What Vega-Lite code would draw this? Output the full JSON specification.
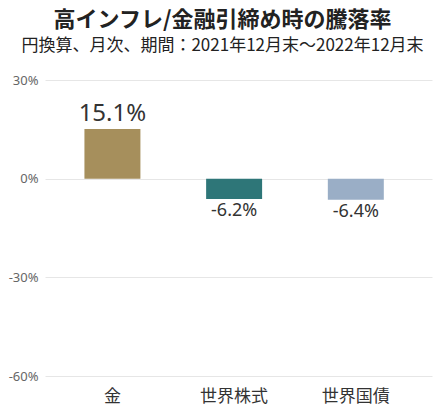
{
  "$schema": "https://vega.github.io/schema/vega-lite/v6.json",
  "width": 387,
  "height": 296,
  "autosize": {"type": "none"},
  "padding": {"left": 45, "top": 80, "right": 8, "bottom": 37},
  "background": "white",
  "title": {
    "text": "高インフレ/金融引締め時の騰落率",
    "subtitle": "円換算、月次、期間：2021年12月末～2022年12月末",
    "anchor": "middle",
    "dx": -16,
    "offset": 19,
    "font": "Noto Sans CJK JP",
    "fontSize": 22,
    "fontWeight": "bold",
    "color": "#222222",
    "subtitleFont": "Noto Sans CJK JP",
    "subtitleFontSize": 17,
    "subtitleFontWeight": "normal",
    "subtitleColor": "#222222",
    "subtitlePadding": 6
  },
  "config": {"view": {"stroke": null}},
  "data": {
    "values": [
      {"asset": "金", "v": 0.151, "label": "15.1%"},
      {"asset": "世界株式", "v": -0.062, "label": "-6.2%"},
      {"asset": "世界国債", "v": -0.064, "label": "-6.4%"}
    ]
  },
  "encoding": {
    "x": {
      "field": "asset",
      "type": "nominal",
      "sort": null,
      "scale": {"paddingInner": 0.54, "paddingOuter": 0.36, "align": 0.45},
      "axis": {
        "title": null,
        "labelAngle": 0,
        "labelFont": "Noto Sans CJK JP",
        "labelFontSize": 17,
        "labelColor": "#333333",
        "labelPadding": 12,
        "domain": false,
        "ticks": false,
        "grid": false
      }
    }
  },
  "layer": [
    {
      "mark": {"type": "bar"},
      "encoding": {
        "y": {
          "field": "v",
          "type": "quantitative",
          "scale": {"domain": [-0.6, 0.3], "nice": false},
          "axis": {
            "title": null,
            "values": [-0.6, -0.3, 0, 0.3],
            "labelExpr": "replace(format(datum.value, '.0%'), '−', '-')",
            "labelFont": "Noto Sans",
            "labelFontSize": 13,
            "labelColor": "#666666",
            "labelPadding": 7,
            "domain": false,
            "ticks": false,
            "grid": true,
            "gridColor": "#e6e6e6",
            "gridWidth": 1
          }
        },
        "color": {
          "field": "asset",
          "type": "nominal",
          "sort": null,
          "scale": {"domain": ["金", "世界株式", "世界国債"], "range": ["#a68f5c", "#2e7678", "#9aaec6"]},
          "legend": null
        }
      }
    },
    {
      "transform": [{"filter": "datum.v >= 0"}],
      "mark": {"type": "text", "baseline": "bottom", "dy": -3, "font": "Noto Sans", "fontSize": 24, "color": "#333333"},
      "encoding": {
        "y": {"field": "v", "type": "quantitative"},
        "text": {"field": "label"}
      }
    },
    {
      "transform": [{"filter": "datum.v < 0"}],
      "mark": {"type": "text", "baseline": "top", "dy": 3, "font": "Noto Sans", "fontSize": 18, "color": "#333333"},
      "encoding": {
        "y": {"field": "v", "type": "quantitative"},
        "text": {"field": "label"}
      }
    }
  ]
}
